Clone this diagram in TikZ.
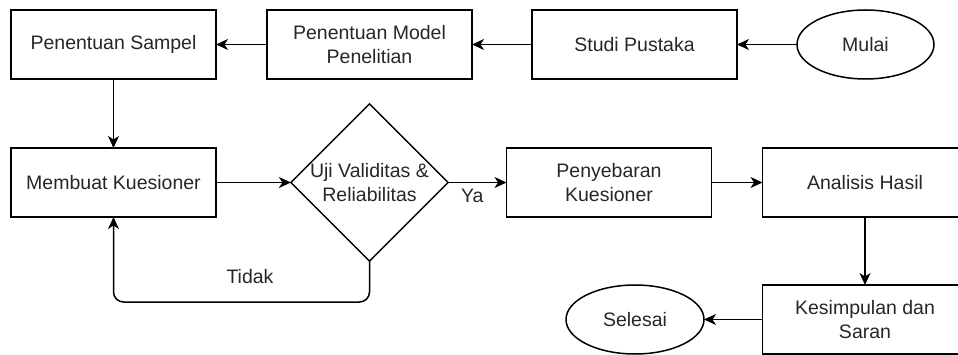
\documentclass[tikz,border=0pt]{standalone}
\usepackage{fontspec}
\setmainfont{Liberation Sans}
\usetikzlibrary{shapes.geometric,arrows.meta}
\begin{document}
\begin{tikzpicture}[x=1pt,y=-1pt,
  every node/.style={font=\fontsize{19.5}{24}\selectfont, text=black!85, inner sep=0pt, outer sep=0pt},
  box/.style={draw, line width=1.5pt, minimum width=205pt, minimum height=69pt, align=center},
  oval/.style={draw, ellipse, line width=1.5pt, minimum width=137pt, minimum height=69pt, align=center},
  decide/.style={draw, diamond, line width=1.5pt, minimum width=153pt, minimum height=153pt, align=center},
  flow/.style={line width=1.5pt, -{Stealth[length=12pt,width=11pt,inset=3.5pt]}},
  lbl/.style={font=\fontsize{19.5}{24}\selectfont}
]
\useasboundingbox (0,0) rectangle (958,355);
\clip (0,0) rectangle (958,355);
\node[box] (samp) at (113.5,44.5) {Penentuan Sampel};
\node[box] (model) at (369.5,44.5) {Penentuan Model\\Penelitian};
\node[box] (studi) at (634.5,44.5) {Studi Pustaka};
\node[oval] (mulai) at (865.5,44.5) {Mulai};
\node[box] (kues) at (113.5,182.5) {Membuat Kuesioner};
\node[decide] (uji) at (369.5,182.5) {Uji Validitas \&\\Reliabilitas};
\node[box] (sebar) at (609,182.5) {Penyebaran\\Kuesioner};
\node[box] (anal) at (865,182.5) {Analisis Hasil};
\node[box] (kesim) at (865,319.5) {Kesimpulan dan\\Saran};
\node[oval, minimum width=138pt] (selesai) at (635,319.5) {Selesai};
\coordinate (c1) at (369.5,302);
\coordinate (c2) at (113.5,302);
\draw[flow] (mulai.west) -- (studi.east);
\draw[flow] (studi.west) -- (model.east);
\draw[flow] (model.west) -- (samp.east);
\draw[flow] (samp.south) -- (kues.north);
\draw[flow] (kues.east) -- (uji.west);
\draw[flow] (uji.east) -- node[lbl, below, yshift=-7pt, xshift=-5pt] {Ya} (sebar.west);
\draw[flow] (sebar.east) -- (anal.west);
\draw[flow] (anal.south) -- (kesim.north);
\draw[flow] (kesim.west) -- (selesai.east);
\draw[flow, rounded corners=10pt] (uji.south) -- (c1) -- (c2) -- (kues.south);
\node[lbl] (tidak) at (250,277) {Tidak};
\end{tikzpicture}
\end{document}
